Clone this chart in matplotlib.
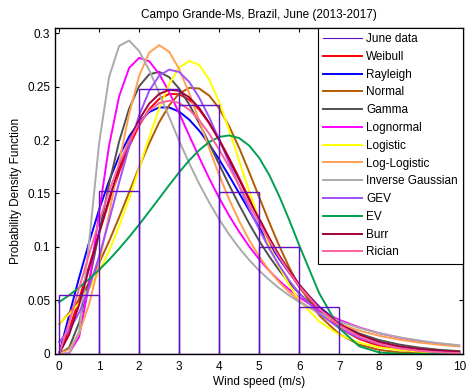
import matplotlib
matplotlib.use('Agg')
import matplotlib.pyplot as plt
from matplotlib.lines import Line2D
from matplotlib.ticker import FormatStrFormatter

plt.rcParams['font.family'] = ['Liberation Sans', 'DejaVu Sans']

# histogram of June wind speeds (bins of 1 m/s)
bin_left = [0, 1, 2, 3, 4, 5, 6]
bin_height = [0.055, 0.152, 0.248, 0.233, 0.151, 0.100, 0.044]

# speeds at which the fitted pdfs are read
ws = [0, 0.25, 0.5, 0.75, 1.0, 1.25, 1.5, 1.75, 2.0, 2.25, 2.5, 2.75, 3.0,
      3.25, 3.5, 3.75, 4.0, 4.25, 4.5, 4.75, 5.0, 5.25, 5.5, 5.75, 6.0,
      6.5, 7.0, 7.5, 8.0, 8.5, 9.0, 9.5, 10.0]

weibull = [0, 0.0226, 0.0513, 0.0821, 0.113, 0.1427, 0.170, 0.194, 0.2137, 0.2287, 0.2385,
           0.2431, 0.2428, 0.2377, 0.2285, 0.2158, 0.2004, 0.183, 0.1644, 0.1454, 0.1267,
           0.1086, 0.0918, 0.0764, 0.0626, 0.0402, 0.0243, 0.0139, 0.0075, 0.0038, 0.0018,
           0.0008, 0.0003]
rayleigh = [0, 0.0361, 0.0712, 0.1044, 0.1349, 0.1619, 0.1848, 0.2033, 0.2170, 0.2261, 0.2305,
            0.2305, 0.2265, 0.2191, 0.2088, 0.1962, 0.1818, 0.1664, 0.1503, 0.1342, 0.1183,
            0.1032, 0.0889, 0.0758, 0.0639, 0.0440, 0.0291, 0.0184, 0.0112, 0.0065, 0.0037,
            0.0020, 0.0010]
normal = [0.0278, 0.0381, 0.0510, 0.0666, 0.0848, 0.1054, 0.1278, 0.1512, 0.1746, 0.1968, 0.2165,
          0.2324, 0.2434, 0.2488, 0.2482, 0.2416, 0.2296, 0.2128, 0.1926, 0.1700, 0.1465,
          0.1232, 0.1011, 0.0809, 0.0632, 0.0359, 0.0185, 0.0086, 0.0037, 0.0014, 0.0005,
          0.0002, 0.0]
gamma = [0, 0.0057, 0.0292, 0.0678, 0.1136, 0.159, 0.1987, 0.2294, 0.2503, 0.2614, 0.2638,
         0.2588, 0.2481, 0.2334, 0.2157, 0.1968, 0.1772, 0.1579, 0.1393, 0.1218, 0.1057,
         0.0912, 0.0781, 0.0665, 0.0564, 0.0399, 0.0278, 0.0190, 0.0129, 0.0087, 0.0058,
         0.0038, 0.0025]
lognormal = [0, 0.0005, 0.0159, 0.0648, 0.1322, 0.195, 0.2409, 0.2674, 0.2769, 0.2737, 0.2619,
             0.2449, 0.2251, 0.2043, 0.1838, 0.1641, 0.1459, 0.1292, 0.1141, 0.1005, 0.0885,
             0.0778, 0.0684, 0.0602, 0.0529, 0.0409, 0.0318, 0.0247, 0.0193, 0.0152, 0.0120,
             0.0095, 0.0075]
logistic = [0.0285, 0.0369, 0.0474, 0.0606, 0.0769, 0.0965, 0.1194, 0.1454, 0.1736, 0.2025, 0.2296,
            0.2522, 0.2678, 0.2740, 0.2702, 0.2567, 0.2355, 0.2092, 0.1806, 0.1520, 0.1254,
            0.1017, 0.0813, 0.0642, 0.0503, 0.0303, 0.0179, 0.0105, 0.0061, 0.0036, 0.0021,
            0.0012, 0.0007]
loglogistic = [0, 0.0042, 0.0193, 0.0464, 0.0845, 0.1306, 0.1794, 0.2245, 0.2599, 0.2817, 0.2887,
               0.2826, 0.2664, 0.2439, 0.2183, 0.1923, 0.1673, 0.1445, 0.1242, 0.1064, 0.0912,
               0.0781, 0.0670, 0.0576, 0.0496, 0.0372, 0.0282, 0.0217, 0.0169, 0.0133, 0.0106,
               0.0085, 0.0069]
invgauss = [0, 0.0001, 0.0211, 0.1045, 0.1971, 0.2591, 0.2880, 0.2930, 0.2832, 0.2655, 0.2440,
            0.2215, 0.1993, 0.1784, 0.1591, 0.1416, 0.1258, 0.1116, 0.0990, 0.0878, 0.0779,
            0.0692, 0.0614, 0.0546, 0.0485, 0.0384, 0.0305, 0.0242, 0.0193, 0.0155, 0.0124,
            0.0100, 0.0080]
gev = [0.0111, 0.0219, 0.0385, 0.0617, 0.0912, 0.1248, 0.1604, 0.1939, 0.2231, 0.2459, 0.2601,
       0.2659, 0.2636, 0.2544, 0.2397, 0.2213, 0.2005, 0.1787, 0.1569, 0.1360, 0.1165,
       0.0986, 0.0827, 0.0687, 0.0566, 0.0375, 0.0241, 0.0150, 0.0090, 0.0053, 0.0030,
       0.0016, 0.0008]
ev = [0.0484, 0.0548, 0.0620, 0.0699, 0.0786, 0.0880, 0.0983, 0.1093, 0.1209, 0.1331, 0.1454,
      0.1578, 0.1698, 0.1809, 0.1905, 0.1981, 0.2029, 0.2043, 0.2018, 0.1948, 0.1833,
      0.1674, 0.1476, 0.1253, 0.1016, 0.0567, 0.0240, 0.0071, 0.0013, 0.0001, 0.0,
      0.0, 0.0]
burr = [0, 0.018, 0.046, 0.080, 0.113, 0.145, 0.174, 0.199, 0.219, 0.234, 0.243,
        0.247, 0.246, 0.240, 0.230, 0.216, 0.200, 0.182, 0.163, 0.144, 0.126,
        0.108, 0.092, 0.078, 0.065, 0.043, 0.028, 0.018, 0.011, 0.007, 0.0045,
        0.003, 0.002]
rician = [0, 0.0294, 0.0613, 0.0933, 0.124, 0.1523, 0.1774, 0.1987, 0.2154, 0.2274, 0.2345,
          0.2368, 0.2347, 0.2284, 0.2187, 0.2060, 0.1911, 0.1747, 0.1574, 0.1398, 0.1225,
          0.1059, 0.0904, 0.0761, 0.0633, 0.0421, 0.0267, 0.0162, 0.0094, 0.0052, 0.0028,
          0.0014, 0.0007]

fits = [
    ('Weibull', weibull, '#ff0000'),
    ('Rayleigh', rayleigh, '#0000ff'),
    ('Normal', normal, '#b35a00'),
    ('Gamma', gamma, '#505050'),
    ('Lognormal', lognormal, '#ff00ff'),
    ('Logistic', logistic, '#ffff00'),
    ('Log-Logistic', loglogistic, '#ffa050'),
    ('Inverse Gaussian', invgauss, '#aaaaaa'),
    ('GEV', gev, '#a050ff'),
    ('EV', ev, '#00a050'),
    ('Burr', burr, '#a0003c'),
    ('Rician', rician, '#ff60a0'),
]

hist_color = '#6010c0'

fig = plt.figure(figsize=(4.67, 3.91), dpi=100)
ax = fig.add_axes([0.118, 0.095, 0.874, 0.834])

handles = [Line2D([], [], color=hist_color, lw=0.8, label='June data')]
for name, vals, col in fits:
    ln, = ax.plot(ws, vals, color=col, lw=1.4, label=name, zorder=2)
    handles.append(ln)

ax.bar(bin_left, bin_height, width=1, align='edge', fill=False,
       edgecolor=hist_color, linewidth=1.0, zorder=3)

ax.set_xlim(-0.1, 10.1)
ax.set_ylim(0, 0.305)
ax.set_xticks(range(0, 11))
ax.set_yticks([0, 0.05, 0.1, 0.15, 0.2, 0.25, 0.3])
ax.yaxis.set_major_formatter(FormatStrFormatter('%g'))
ax.tick_params(direction='in', top=True, right=True, length=3, width=0.8, labelsize=8.5)
ax.tick_params(axis='x', pad=5)
for s in ax.spines.values():
    s.set_linewidth(1.0)

ax.set_title('Campo Grande-Ms, Brazil, June (2013-2017)', fontsize=8.5, pad=7)
ax.set_xlabel('Wind speed (m/s)', fontsize=8.5, labelpad=2)
ax.set_ylabel('Probability Density Function', fontsize=8.5, labelpad=4)

leg = ax.legend(handles=handles, loc='upper right', bbox_to_anchor=(1, 1),
                borderaxespad=0, fontsize=8.5, handlelength=3.3, handletextpad=0.35,
                labelspacing=0.49, fancybox=False, framealpha=1, edgecolor='black',
                borderpad=0.45)
leg.get_frame().set_linewidth(0.8)

fig.savefig('out.png', dpi=100)
